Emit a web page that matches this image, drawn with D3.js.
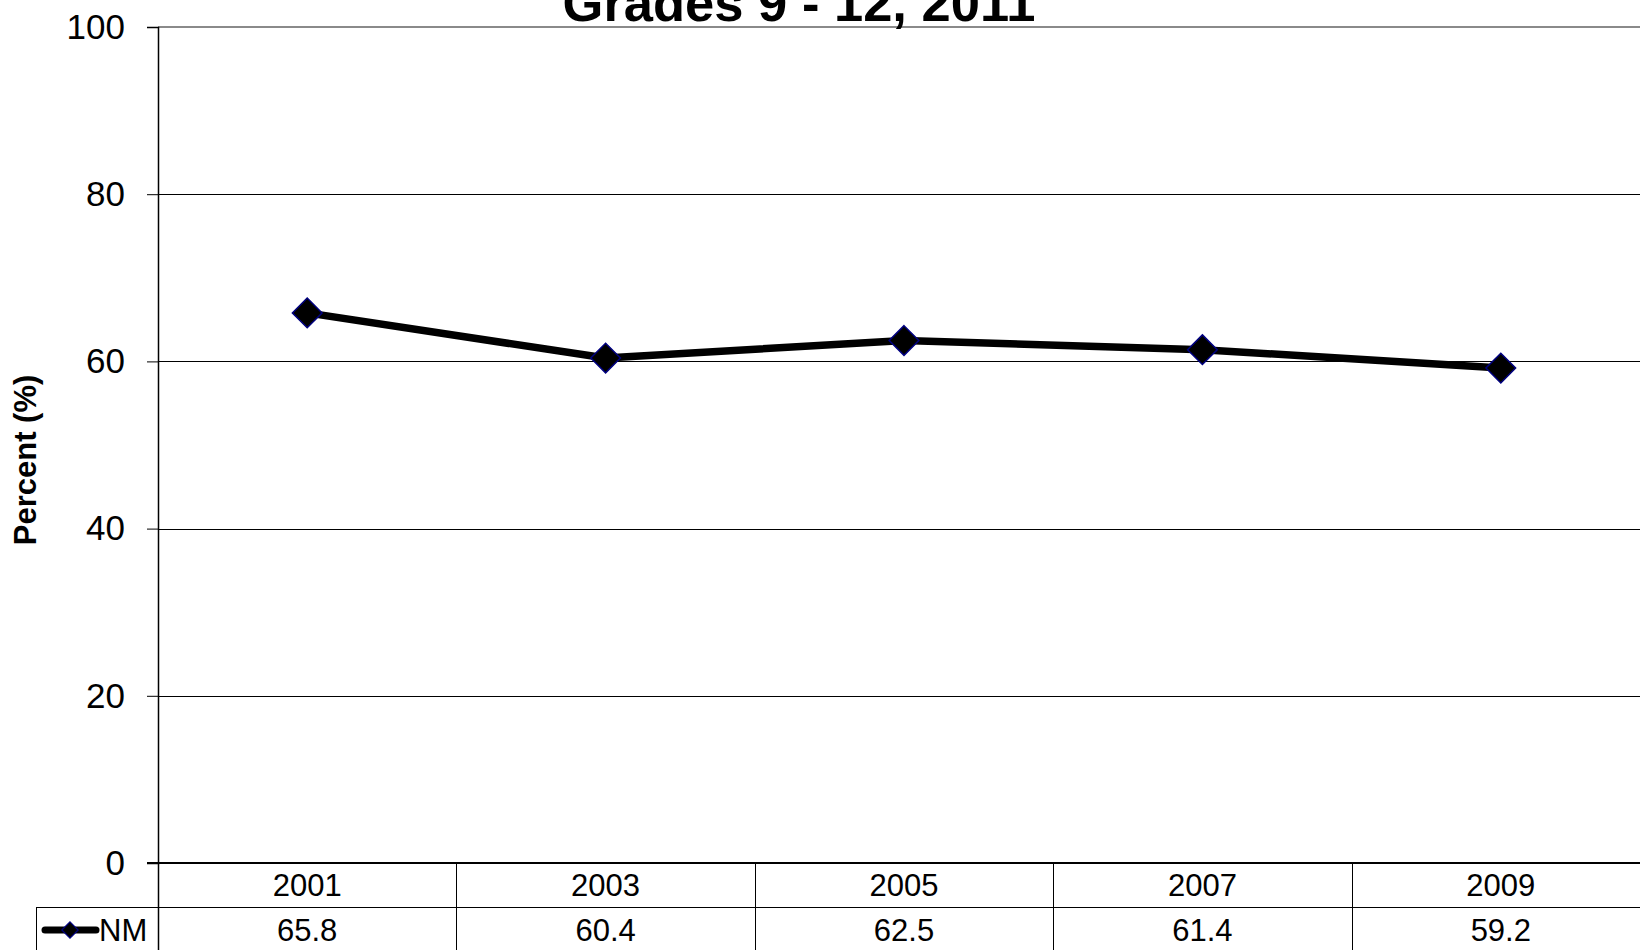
<!DOCTYPE html>
<html>
<head>
<meta charset="utf-8">
<script src="https://cdn.jsdelivr.net/npm/d3@7"></script>
<style>
  html, body { margin: 0; padding: 0; background: #fff; overflow: hidden; }
  text { font-family: "Liberation Sans", Arial, sans-serif; fill: #000; }
</style>
</head>
<body>
<div id="vis"></div>
<script>
// data
const YEARS = ["2001", "2003", "2005", "2007", "2009"];
const NM_VALUES = [65.8, 60.4, 62.5, 61.4, 59.2];
const Y_TICKS = [0, 20, 40, 60, 80, 100];
const SERIES_NAME = "NM";
const TITLE_LINE = "Grades 9 - 12, 2011";
const Y_TITLE = "Percent (%)";

// frame
const FRAME_WIDTH = 1640;
const FRAME_HEIGHT = 950;
const PLOT = {left: 158, right: 1650, top: 27, bottom: 863};
const ROW_H = 44;

const SVG = d3.select("#vis")
              .append("svg")
                .attr("width", FRAME_WIDTH)
                .attr("height", FRAME_HEIGHT);

const X = d3.scaleBand()
            .domain(YEARS)
            .range([PLOT.left, PLOT.right])
            .padding(0);

const Y = d3.scaleLinear()
            .domain([0, 100])
            .range([PLOT.bottom, PLOT.top]);

const cx = (d) => X(d) + X.bandwidth() / 2;

// gridlines
SVG.append("g")
  .selectAll("line")
  .data(Y_TICKS.filter((t) => t > 0 && t < 100))
  .enter()
  .append("line")
    .attr("x1", PLOT.left)
    .attr("x2", PLOT.right)
    .attr("y1", (d) => Math.round(Y(d)) + 0.5)
    .attr("y2", (d) => Math.round(Y(d)) + 0.5)
    .attr("stroke", "#000")
    .attr("stroke-width", 1);

// top border of plot area
SVG.append("line")
    .attr("x1", PLOT.left)
    .attr("x2", PLOT.right)
    .attr("y1", Y(100))
    .attr("y2", Y(100))
    .attr("stroke", "#8a8a8a")
    .attr("stroke-width", 2);

// y axis
const yAxis = SVG.append("g")
    .attr("transform", "translate(" + PLOT.left + ",0)")
    .call(d3.axisLeft(Y).tickValues(Y_TICKS).tickSize(11).tickPadding(22));

yAxis.select(".domain")
    .attr("stroke", "#000")
    .attr("stroke-width", 1.5);
yAxis.selectAll(".tick line")
    .attr("stroke", "#000")
    .attr("stroke-width", 1);
yAxis.selectAll(".tick text")
    .attr("font-size", 35)
    .attr("font-family", "Liberation Sans, Arial, sans-serif")
    .attr("fill", "#000");

// y title
SVG.append("text")
    .attr("transform", "translate(36,460) rotate(-90)")
    .attr("text-anchor", "middle")
    .attr("font-size", 31)
    .attr("font-weight", "bold")
    .text(Y_TITLE);

// title (only its last line sits inside the frame, as in the source)
SVG.append("text")
    .attr("x", 799)
    .attr("y", 21)
    .attr("text-anchor", "middle")
    .attr("font-size", 52.5)
    .attr("font-weight", "bold")
    .text(TITLE_LINE);

// data table under the plot
const TABLE = SVG.append("g");

TABLE.append("line")
    .attr("x1", PLOT.left - 11).attr("x2", PLOT.right)
    .attr("y1", PLOT.bottom).attr("y2", PLOT.bottom)
    .attr("stroke", "#000").attr("stroke-width", 2);

TABLE.append("line")
    .attr("x1", 36).attr("x2", PLOT.right)
    .attr("y1", PLOT.bottom + ROW_H + 0.5).attr("y2", PLOT.bottom + ROW_H + 0.5)
    .attr("stroke", "#000").attr("stroke-width", 1);

TABLE.append("line")
    .attr("x1", 36.5).attr("x2", 36.5)
    .attr("y1", PLOT.bottom + ROW_H).attr("y2", FRAME_HEIGHT)
    .attr("stroke", "#000").attr("stroke-width", 1);

TABLE.selectAll(".col")
  .data(YEARS)
  .enter()
  .append("line")
    .attr("class", "col")
    .attr("x1", (d) => Math.round(X(d)) + 0.5)
    .attr("x2", (d) => Math.round(X(d)) + 0.5)
    .attr("y1", PLOT.bottom)
    .attr("y2", FRAME_HEIGHT)
    .attr("stroke", "#000")
    .attr("stroke-width", (d, i) => i === 0 ? 1.5 : 1);

TABLE.selectAll(".year")
  .data(YEARS)
  .enter()
  .append("text")
    .attr("class", "year")
    .attr("x", cx)
    .attr("y", PLOT.bottom + ROW_H / 2)
    .attr("dy", "0.36em")
    .attr("text-anchor", "middle")
    .attr("font-size", 31)
    .text((d) => d);

TABLE.selectAll(".val")
  .data(YEARS)
  .enter()
  .append("text")
    .attr("class", "val")
    .attr("x", cx)
    .attr("y", PLOT.bottom + ROW_H * 1.5 + 1)
    .attr("dy", "0.36em")
    .attr("text-anchor", "middle")
    .attr("font-size", 31)
    .text((d, i) => NM_VALUES[i].toFixed(1));

// legend key in the table
const KEY_Y = PLOT.bottom + ROW_H * 1.5 + 1;
TABLE.append("line")
    .attr("x1", 45).attr("x2", 96)
    .attr("y1", KEY_Y).attr("y2", KEY_Y)
    .attr("stroke", "#000")
    .attr("stroke-width", 7)
    .attr("stroke-linecap", "round");
TABLE.append("path")
    .attr("d", d3.symbol().type(d3.symbolDiamond2).size(170)())
    .attr("transform", "translate(70," + KEY_Y + ")")
    .attr("fill", "#000")
    .attr("stroke", "#000080")
    .attr("stroke-width", 1.2);
TABLE.append("text")
    .attr("x", 99)
    .attr("y", KEY_Y)
    .attr("dy", "0.36em")
    .attr("font-size", 31)
    .text(SERIES_NAME);

// series line
const line = d3.line()
    .x((d, i) => cx(YEARS[i]))
    .y((d) => Y(d));

SVG.append("path")
    .datum(NM_VALUES)
    .attr("d", line)
    .attr("fill", "none")
    .attr("stroke", "#000")
    .attr("stroke-width", 7.5)
    .attr("stroke-linejoin", "round");

SVG.selectAll(".point")
  .data(NM_VALUES)
  .enter()
  .append("path")
    .attr("class", "point")
    .attr("d", d3.symbol().type(d3.symbolDiamond2).size(560)())
    .attr("transform", (d, i) => "translate(" + cx(YEARS[i]) + "," + Y(d) + ")")
    .attr("fill", "#000")
    .attr("stroke", "#000080")
    .attr("stroke-width", 1.5);
</script>
</body>
</html>
